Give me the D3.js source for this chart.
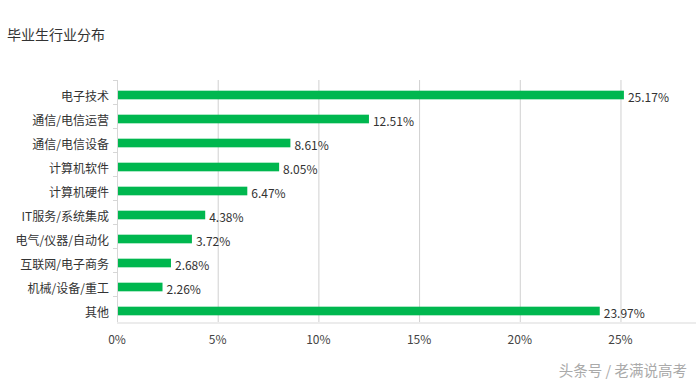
<!doctype html>
<html lang="zh">
<head>
<meta charset="utf-8">
<title>毕业生行业分布</title>
<script src="https://d3js.org/d3.v7.min.js"></script>
<style>
  body { margin: 0; background: #fff; }
  svg { display: block; font-family: "Microsoft YaHei", "Noto Sans CJK SC", "Noto Sans", sans-serif; }
</style>
</head>
<body>
<div id="chart"></div>
<script>
// data
var categories = ["电子技术", "通信/电信运营", "通信/电信设备", "计算机软件", "计算机硬件",
                  "IT服务/系统集成", "电气/仪器/自动化", "互联网/电子商务", "机械/设备/重工", "其他"];
var shares = [25.17, 12.51, 8.61, 8.05, 6.47, 4.38, 3.72, 2.68, 2.26, 23.97];
var tickValues = [0, 5, 10, 15, 20, 25];

var width = 696, height = 384;
var margin = { top: 82, right: 1, bottom: 62, left: 117 };

var svg = d3.select("#chart").append("svg")
    .attr("width", width)
    .attr("height", height);

svg.append("text")
    .attr("x", 7).attr("y", 40)
    .attr("font-size", 14)
    .attr("fill", "#333")
    .text("毕业生行业分布");

var x = d3.scaleLinear().domain([0, 28.7]).range([margin.left, width - margin.right]);
var y = d3.scaleBand().domain(categories).range([margin.top + 1, height - margin.bottom + 1]).paddingInner(0.64).paddingOuter(0.32);
var band = d3.scaleBand().domain(categories).range([margin.top, height - margin.bottom]);

// vertical grid
svg.append("g")
    .selectAll("line")
    .data(tickValues.slice(1))
    .enter().append("line")
    .attr("x1", d => x(d) + 0.5).attr("x2", d => x(d) + 0.5)
    .attr("y1", margin.top - 2).attr("y2", height - margin.bottom)
    .attr("stroke", "#d0d0d0");

// bottom axis line
svg.append("line")
    .attr("x1", margin.left).attr("x2", width)
    .attr("y1", height - margin.bottom + 1).attr("y2", height - margin.bottom + 1)
    .attr("stroke", "#ececec").attr("stroke-width", 2);

// x tick labels
svg.append("g")
    .selectAll("text")
    .data(tickValues)
    .enter().append("text")
    .attr("x", d => x(d))
    .attr("y", height - margin.bottom + 22)
    .attr("text-anchor", "middle")
    .attr("font-size", 12)
    .attr("fill", "#444")
    .text(d => d + "%");

// left axis with ticks between categories
var yAxis = svg.append("g");
yAxis.append("line")
    .attr("x1", margin.left + 0.5).attr("x2", margin.left + 0.5)
    .attr("y1", margin.top - 2).attr("y2", height - margin.bottom)
    .attr("stroke", "#d6d6d6");
yAxis.selectAll("line.tk")
    .data(categories)
    .enter().append("line").attr("class", "tk")
    .attr("x1", margin.left - 4).attr("x2", margin.left)
    .attr("y1", d => band(d) - 1.5).attr("y2", d => band(d) - 1.5)
    .attr("stroke", "#d6d6d6");

yAxis.selectAll("text")
    .data(categories)
    .enter().append("text")
    .attr("x", margin.left - 8)
    .attr("y", d => y(d) + y.bandwidth() / 2 + 2)
    .attr("dy", "0.35em")
    .attr("text-anchor", "end")
    .attr("font-size", 12)
    .attr("fill", "#333")
    .text(d => d);

// bars
var rows = categories.map((c, i) => ({ name: c, value: shares[i] }));
svg.append("g")
    .selectAll("rect")
    .data(rows)
    .enter().append("rect")
    .attr("x", margin.left + 1)
    .attr("y", d => y(d.name))
    .attr("width", d => x(d.value) - margin.left - 1)
    .attr("height", y.bandwidth())
    .attr("fill", "#00b74f");

// value labels
svg.append("g")
    .selectAll("text")
    .data(rows)
    .enter().append("text")
    .attr("x", d => x(d.value) + 4)
    .attr("y", d => y(d.name) + y.bandwidth() / 2 + 2.5)
    .attr("dy", "0.35em")
    .attr("font-size", 12)
    .attr("fill", "#333")
    .text(d => d.value.toFixed(2) + "%");

// watermark
svg.append("text")
    .attr("x", 687).attr("y", 376)
    .attr("text-anchor", "end")
    .attr("font-size", 14.5)
    .attr("fill", "#aaa")
    .text("头条号 / 老满说高考");
</script>
</body>
</html>
